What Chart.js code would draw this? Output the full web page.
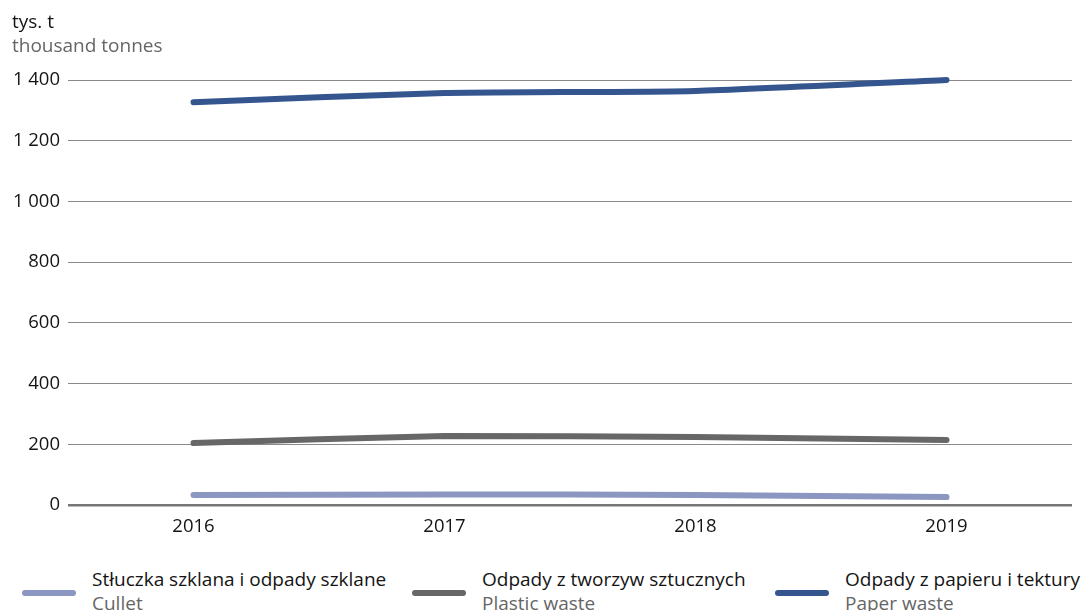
<!DOCTYPE html>
<html>
<head>
<meta charset="utf-8">
<script src="https://cdn.jsdelivr.net/npm/chart.js@4"></script>
<style>
  html, body { margin: 0; padding: 0; background: #fff; }
  body { width: 1084px; height: 611px; position: relative; overflow: hidden; font-family: "Open Sans", sans-serif; }
  #wrap { position: absolute; left: 0; top: 0; width: 1084px; height: 560px; }
  .t1 { position: absolute; left: 12px; top: 10px; font-size: 19px; color: #141414; line-height: 22px; }
  .t2 { position: absolute; left: 12px; top: 34px; font-size: 19px; color: #666666; line-height: 22px; }
  .leg { position: absolute; top: 567px; }
  .sw { position: absolute; top: 23px; width: 54px; height: 6px; border-radius: 3px; }
  .lt { position: absolute; white-space: nowrap; font-size: 19px; line-height: 24px; }
  .lt .a { color: #141414; display: block; }
  .lt .b { color: #666666; display: block; }
</style>
</head>
<body>
<div id="wrap"><canvas id="c"></canvas></div>
<div class="t1">tys. t</div>
<div class="t2">thousand tonnes</div>
<div id="legend"></div>
<script>
const categories = ["2016", "2017", "2018", "2019"];
const cullet = [33, 35, 33, 26];
const plastic = [204, 227, 224, 214];
const paper = [1327, 1357, 1364, 1400];
const yTicks = [0, 200, 400, 600, 800, 1000, 1200, 1400];
const seriesNamesPl = ["Stłuczka szklana i odpady szklane", "Odpady z tworzyw sztucznych", "Odpady z papieru i tektury"];
const seriesNamesEn = ["Cullet", "Plastic waste", "Paper waste"];
const colors = ["#8b97c1", "#676767", "#35558f"];

function fmt(v) {
  return String(v).replace(/\B(?=(\d{3})+(?!\d))/g, " ");
}

const ctx = document.getElementById('c');
new Chart(ctx, {
  type: 'line',
  data: {
    labels: categories,
    datasets: [
      { label: seriesNamesPl[0], data: cullet, borderColor: colors[0] },
      { label: seriesNamesPl[1], data: plastic, borderColor: colors[1] },
      { label: seriesNamesPl[2], data: paper, borderColor: colors[2] }
    ].map(d => Object.assign(d, {
      borderWidth: 6, pointRadius: 0, pointHoverRadius: 0, tension: 0.2,
      borderCapStyle: 'round', borderJoinStyle: 'round', fill: false, clip: false
    }))
  },
  options: {
    responsive: true,
    maintainAspectRatio: false,
    animation: false,
    events: [],
    layout: { padding: { top: 80, right: 12, left: 0, bottom: 0 } },
    plugins: { legend: { display: false }, tooltip: { enabled: false } },
    scales: {
      x: {
        offset: true,
        grid: { display: false, drawTicks: false },
        border: { display: false },
        ticks: { color: '#141414', font: { family: 'Open Sans', size: 18.5 }, padding: 11 },
        afterFit(s) { s.height = 55; }
      },
      y: {
        min: 0, max: 1400,
        afterBuildTicks(s) { s.ticks = yTicks.map(v => ({ value: v })); },
        grid: {
          drawTicks: false,
          color: (c) => c.tick && c.tick.value === 0 ? '#777777' : '#8a8a8a',
          lineWidth: (c) => c.tick && c.tick.value === 0 ? 2.5 : 1
        },
        border: { display: false },
        ticks: { color: '#141414', font: { family: 'Open Sans', size: 18.5 }, padding: 8, callback: (v) => fmt(v) },
        afterFit(s) { s.width = 68; }
      }
    }
  }
});

const legendX = [22, 412, 775];
const legend = document.getElementById('legend');
for (let i = 0; i < 3; i++) {
  const g = document.createElement('div');
  g.className = 'leg';
  g.style.left = legendX[i] + 'px';
  g.innerHTML = '<div class="sw" style="background:' + colors[i] + '"></div>' +
    '<div class="lt" style="left:70px;top:0"><span class="a">' + seriesNamesPl[i] + '</span><span class="b">' + seriesNamesEn[i] + '</span></div>';
  legend.appendChild(g);
}
</script>
</body>
</html>
